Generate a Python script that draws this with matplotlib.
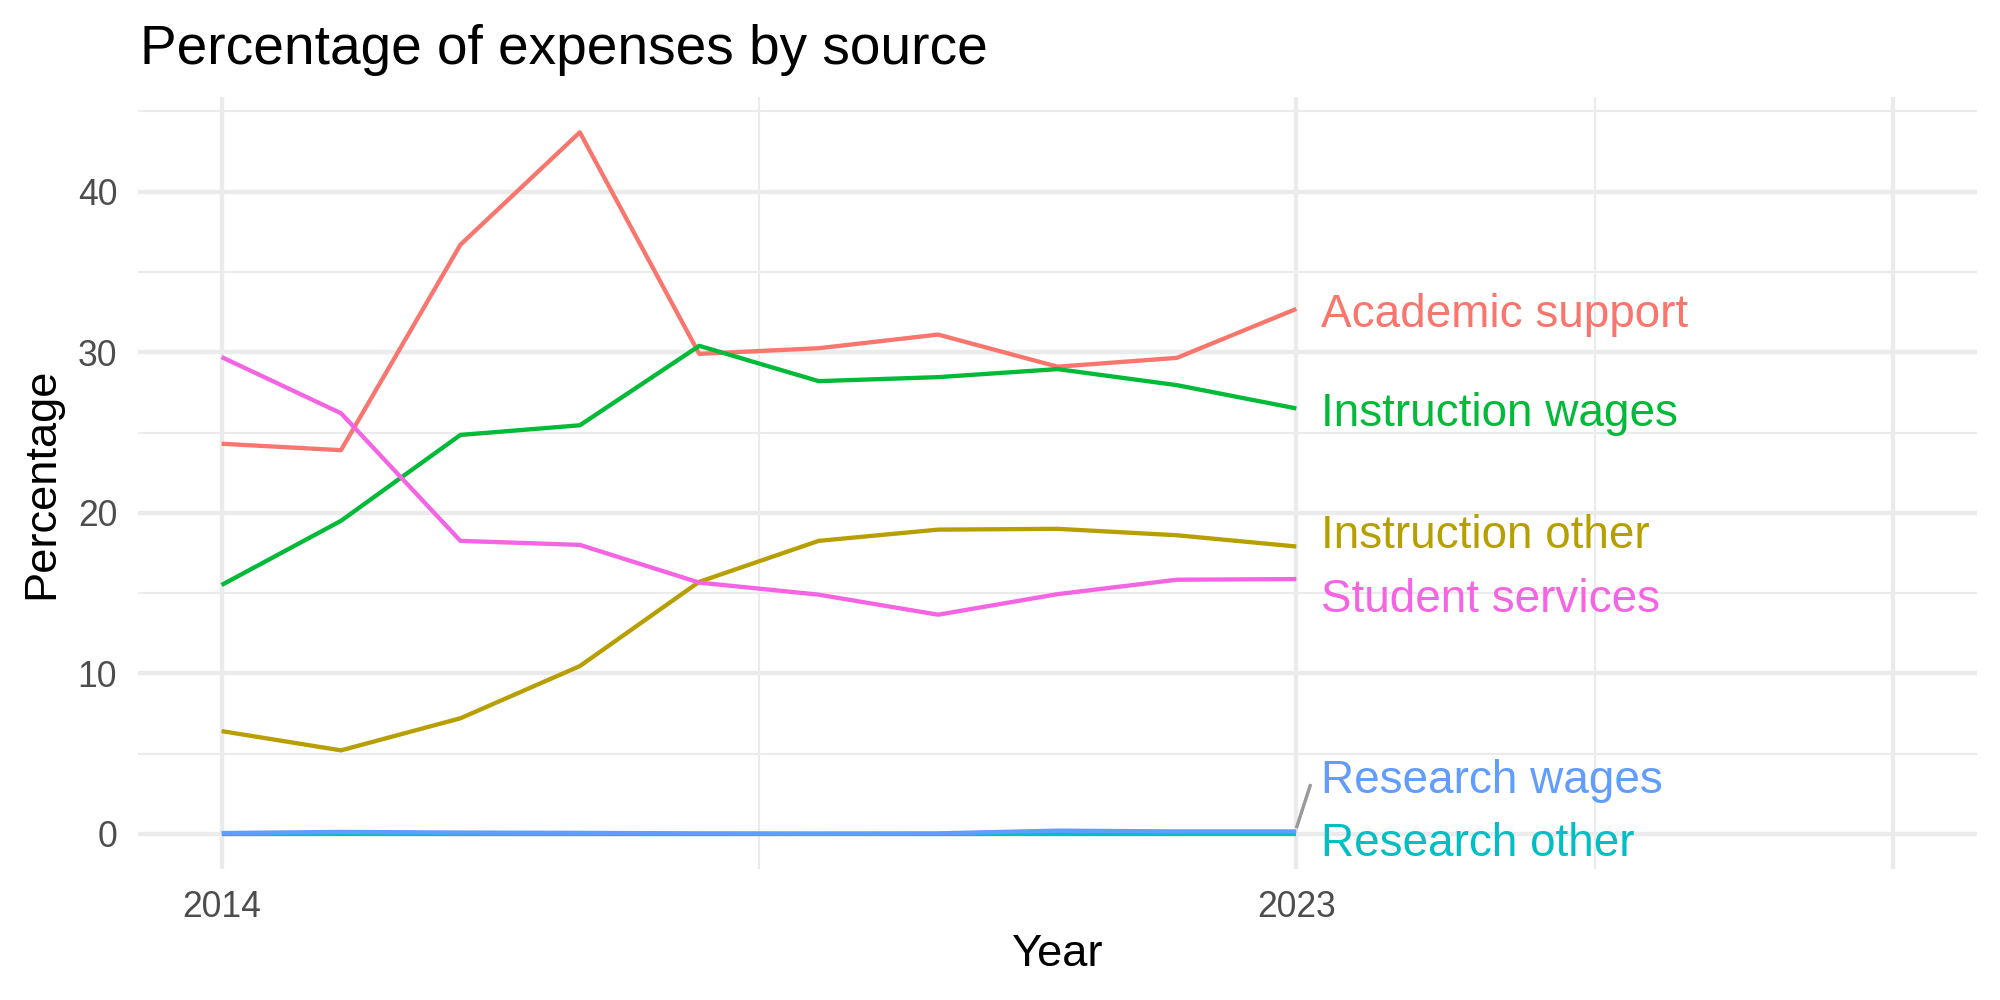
import matplotlib
matplotlib.use('Agg')
import matplotlib.pyplot as plt

plt.rcParams['font.family'] = ['Liberation Sans', 'DejaVu Sans']

# ---- data ----
years = [2014, 2015, 2016, 2017, 2018, 2019, 2020, 2021, 2022, 2023]
series_names = ['Academic support', 'Instruction other', 'Instruction wages',
                'Research other', 'Research wages', 'Student services']
academic_support = [24.3, 23.9, 36.7, 43.7, 29.9, 30.25, 31.1, 29.1, 29.65, 32.7]
instruction_other = [6.4, 5.2, 7.2, 10.45, 15.7, 18.25, 18.95, 19.0, 18.6, 17.9]
instruction_wages = [15.5, 19.5, 24.85, 25.45, 30.4, 28.2, 28.45, 28.95, 27.95, 26.5]
research_other = [0.0, 0.0, 0.0, 0.0, 0.0, 0.0, 0.0, 0.0, 0.0, 0.0]
research_wages = [0.05, 0.12, 0.08, 0.06, 0.03, 0.02, 0.03, 0.2, 0.15, 0.15]
student_services = [29.7, 26.2, 18.25, 18.0, 15.65, 14.9, 13.65, 14.93, 15.83, 15.87]
series_values = [academic_support, instruction_other, instruction_wages,
                 research_other, research_wages, student_services]
# label vertical positions (after repelling)
label_y = [32.65, 18.85, 26.45, -0.35, 3.6, 14.9]

colors = ['#F8766D', '#B79F00', '#00BA38', '#00BFC4', '#619CFF', '#F564E3']

x_major = [2014, 2023, 2028]
x_major_labels = ['2014', '2023', '']
x_minor = [2018.5, 2025.5]
y_major = [0, 10, 20, 30, 40]
y_minor = [5, 15, 25, 35, 45]

# ---- figure ----
fig = plt.figure(figsize=(10, 5), dpi=200)
ax = fig.add_axes([138 / 2000, 131 / 1000, (1977 - 138) / 2000, (869 - 97) / 1000])

grid_col = '#EBEBEB'
for v in x_minor:
    ax.axvline(v, color=grid_col, lw=0.78, zorder=0)
for v in y_minor:
    ax.axhline(v, color=grid_col, lw=0.78, zorder=0)
for v in x_major:
    ax.axvline(v, color=grid_col, lw=1.55, zorder=0)
for v in y_major:
    ax.axhline(v, color=grid_col, lw=1.55, zorder=0)

for name, vals, col in zip(series_names, series_values, colors):
    ax.plot(years, vals, color=col, lw=1.55, solid_capstyle='butt', zorder=2)

label_dx = 0.21
for name, vals, col, ly in zip(series_names, series_values, colors, label_y):
    ax.text(years[-1] + label_dx, ly, name, color=col, fontsize=16.5,
            ha='left', va='center_baseline', zorder=3)
    if abs(ly - vals[-1]) > 2.5:
        ax.plot([years[-1], years[-1] + label_dx - 0.09],
                [vals[-1] + 0.2, ly - 0.5],
                color='#999999', lw=1.2, zorder=2, solid_capstyle='butt')

ax.set_xlim(2013.3, 2028.7)
ax.set_ylim(-2.19, 45.9)
ax.set_xticks(x_major)
ax.set_xticklabels(x_major_labels)
ax.set_yticks(y_major)
ax.tick_params(length=0, labelsize=12.8, labelcolor='#4D4D4D', pad=7.5)
for s in ax.spines.values():
    s.set_visible(False)

fig.text(140 / 2000, 1 - 64 / 1000, 'Percentage of expenses by source',
         fontsize=19.8, ha='left', va='baseline', color='black')
fig.text((138 + 1977) / 2 / 2000, 1 - 966 / 1000, 'Year', fontsize=16.3,
         ha='center', va='baseline', color='black')
fig.text(53 / 2000, 1 - 483 / 1000, 'Percentage', fontsize=16.3, rotation=90,
         rotation_mode='anchor', ha='center', va='baseline', color='black')

fig.savefig('out.png', dpi=200, facecolor='white')
